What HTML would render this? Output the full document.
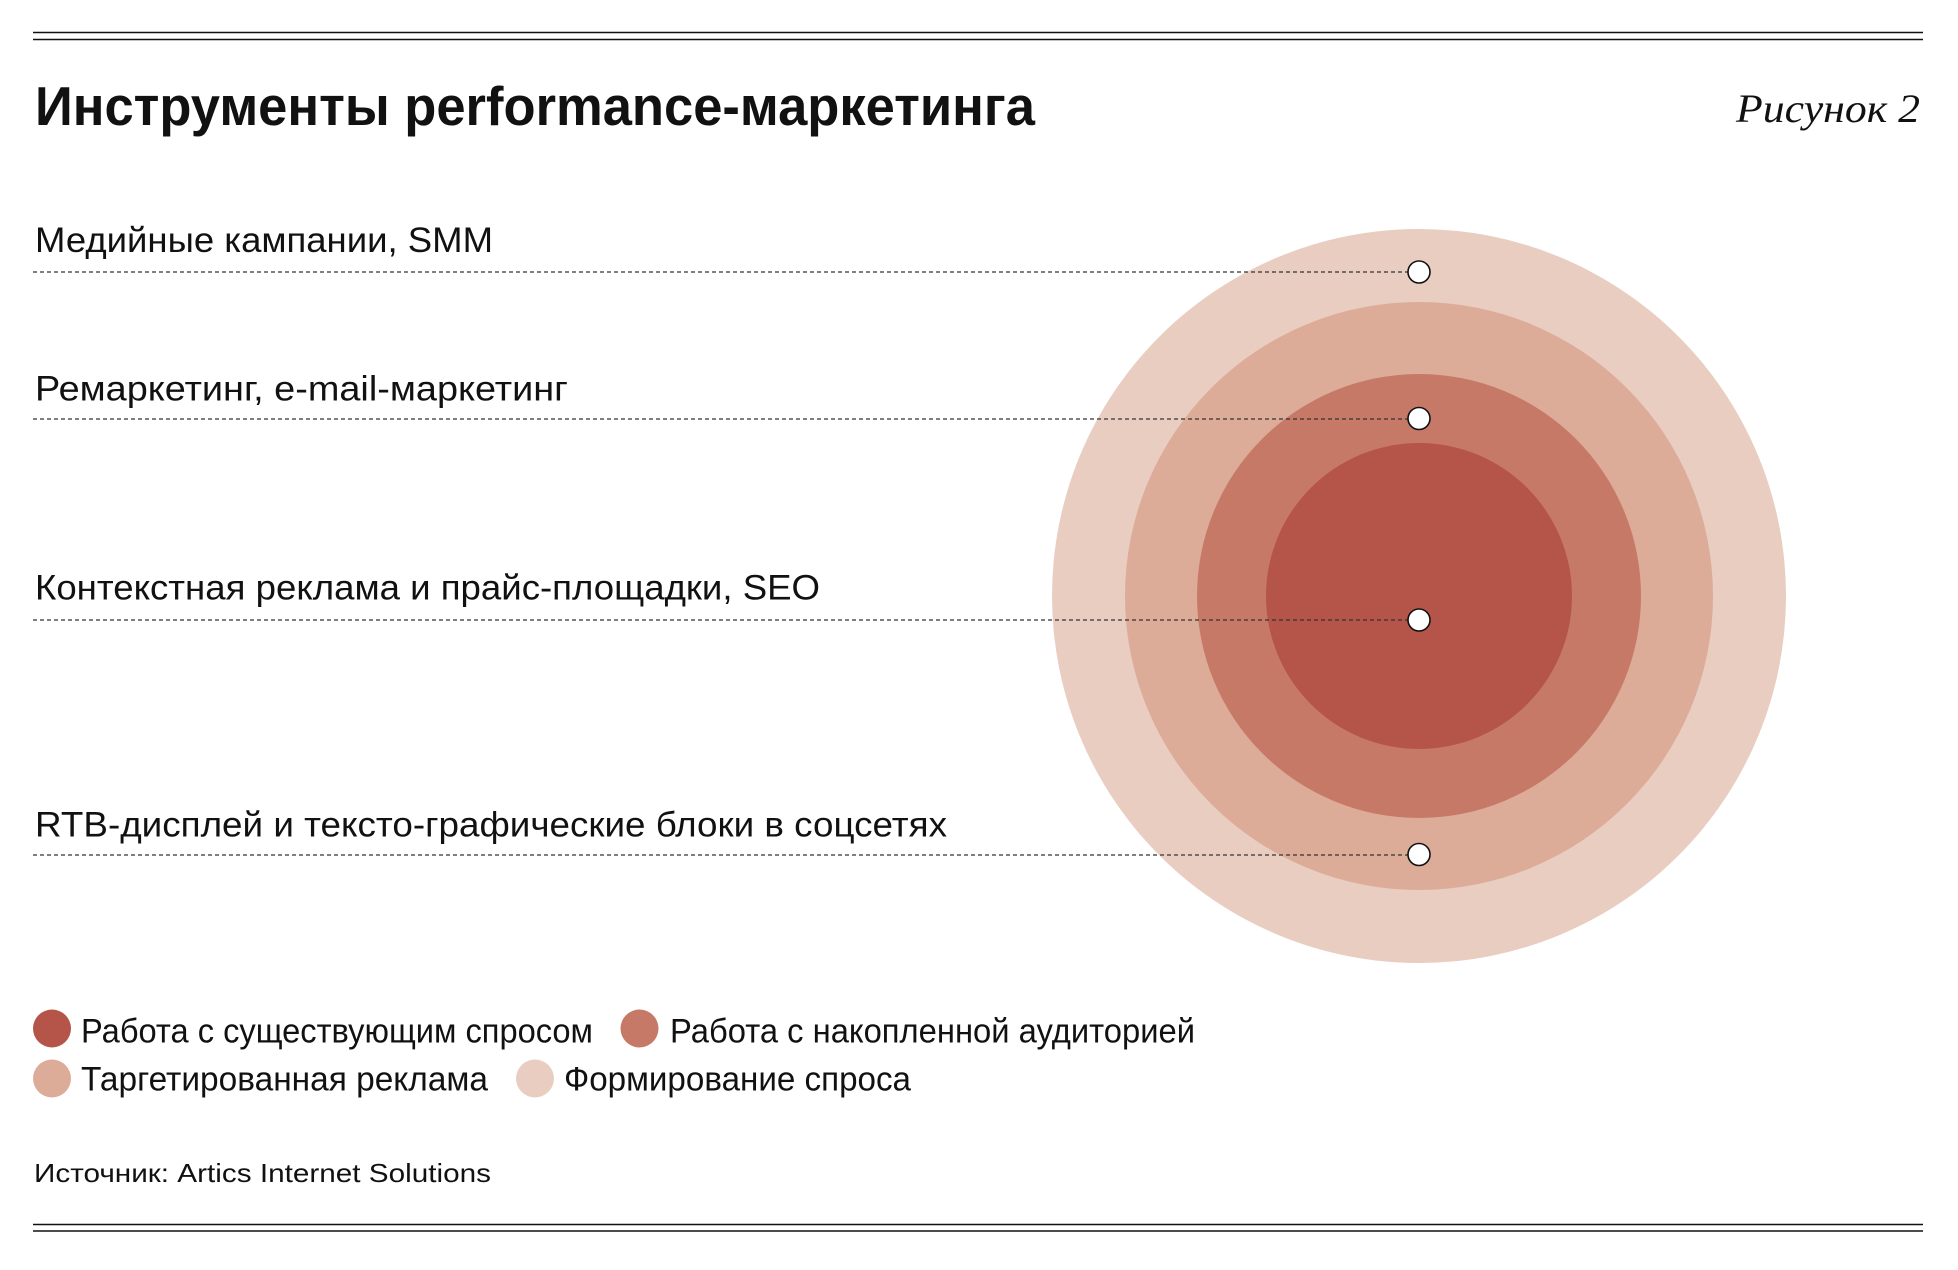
<!DOCTYPE html>
<html>
<head>
<meta charset="utf-8">
<style>
html,body{margin:0;padding:0;background:#fff;}
body{width:1958px;height:1270px;overflow:hidden;}
svg{display:block;}
text{font-family:"Liberation Sans","Noto Sans CJK SC",sans-serif;fill:#111;}
.lbl{font-size:35px;}
.leg{font-size:34px;}
</style>
</head>
<body>
<svg width="1958" height="1270" viewBox="0 0 1958 1270" xmlns="http://www.w3.org/2000/svg">
  <!-- top double rule -->
  <line x1="33" y1="32.5" x2="1923" y2="32.5" stroke="#111" stroke-width="1.6"/>
  <line x1="33" y1="39.5" x2="1923" y2="39.5" stroke="#111" stroke-width="1.6"/>

  <!-- title -->
  <text x="35" y="125" font-size="55" font-weight="bold" textLength="1000" lengthAdjust="spacingAndGlyphs">Инструменты performance-маркетинга</text>
  <text x="1920" y="122" text-anchor="end" font-size="40" font-style="italic" style="font-family:'Liberation Serif',serif" textLength="184" lengthAdjust="spacingAndGlyphs">Рисунок 2</text>

  <!-- concentric circles -->
  <circle cx="1419" cy="596" r="367" fill="#E9CDC1"/>
  <circle cx="1419" cy="596" r="294" fill="#DCAC98"/>
  <circle cx="1419" cy="596" r="222" fill="#C77968"/>
  <circle cx="1419" cy="596" r="153" fill="#B5554A"/>

  <!-- labels -->
  <text class="lbl" x="35" y="252" textLength="458" lengthAdjust="spacingAndGlyphs">Медийные кампании, SMM</text>
  <text class="lbl" x="35" y="400.5" textLength="533" lengthAdjust="spacingAndGlyphs">Ремаркетинг, e-mail-маркетинг</text>
  <text class="lbl" x="35" y="599.5" textLength="785" lengthAdjust="spacingAndGlyphs">Контекстная реклама и прайс-площадки, SEO</text>
  <text class="lbl" x="35" y="836.5" textLength="912" lengthAdjust="spacingAndGlyphs">RTB-дисплей и тексто-графические блоки в соцсетях</text>

  <!-- dashed leaders -->
  <g stroke="#333" stroke-width="1.3" stroke-dasharray="4 3" fill="none">
    <line x1="33" y1="272" x2="1408" y2="272"/>
    <line x1="33" y1="419" x2="1408" y2="419"/>
    <line x1="33" y1="620" x2="1408" y2="620"/>
    <line x1="33" y1="855" x2="1408" y2="855"/>
  </g>

  <!-- markers -->
  <g fill="#fff" stroke="#111" stroke-width="1.6">
    <circle cx="1419" cy="272" r="11"/>
    <circle cx="1419" cy="418.5" r="11"/>
    <circle cx="1419" cy="620" r="11"/>
    <circle cx="1419" cy="854.5" r="11"/>
  </g>

  <!-- legend -->
  <circle cx="52" cy="1028.5" r="19" fill="#B5554A"/>
  <text class="leg" x="81" y="1042.5" textLength="512" lengthAdjust="spacingAndGlyphs">Работа с существующим спросом</text>
  <circle cx="639.5" cy="1028.5" r="19" fill="#C77968"/>
  <text class="leg" x="670" y="1042.5" textLength="525" lengthAdjust="spacingAndGlyphs">Работа с накопленной аудиторией</text>
  <circle cx="52" cy="1078.5" r="19" fill="#DCAC98"/>
  <text class="leg" x="81" y="1090.5" textLength="407" lengthAdjust="spacingAndGlyphs">Таргетированная реклама</text>
  <circle cx="535" cy="1078.5" r="19" fill="#E9CDC1"/>
  <text class="leg" x="564" y="1090.5" textLength="347" lengthAdjust="spacingAndGlyphs">Формирование спроса</text>

  <!-- source -->
  <text x="34" y="1182" font-size="26" textLength="457" lengthAdjust="spacingAndGlyphs">Источник: Artics Internet Solutions</text>

  <!-- bottom double rule -->
  <line x1="33" y1="1224.5" x2="1923" y2="1224.5" stroke="#111" stroke-width="1.6"/>
  <line x1="33" y1="1231" x2="1923" y2="1231" stroke="#111" stroke-width="1.6"/>
</svg>
</body>
</html>
